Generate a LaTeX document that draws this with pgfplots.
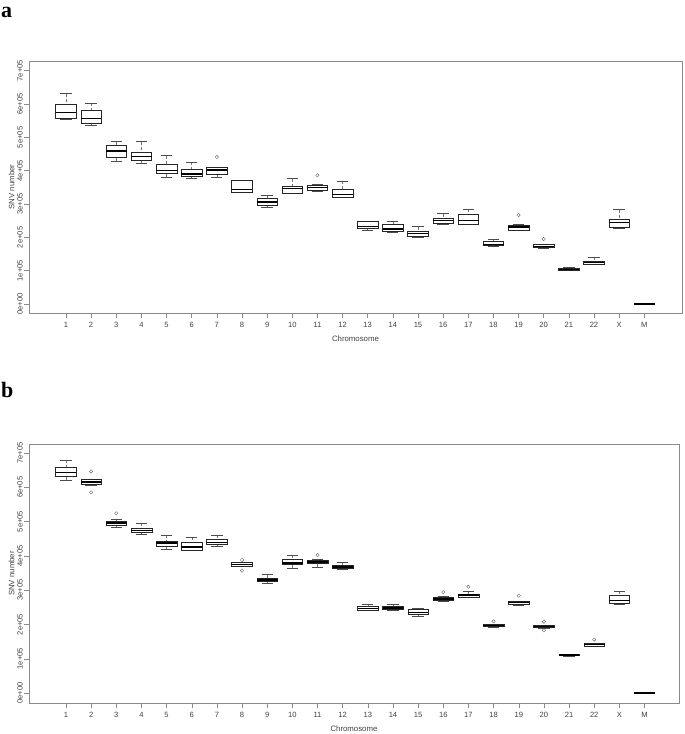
\documentclass[border=0pt]{standalone}
\usepackage{pgfplots}
\pgfplotsset{compat=1.18}
\usepgfplotslibrary{statistics}
\usepackage{fontspec}
\setmainfont{Liberation Sans}
\newfontfamily\serifb{Liberation Serif}

\definecolor{frm}{HTML}{8A8A8A}
\definecolor{lbl}{HTML}{404040}

% one R-style box: position, lower whisker, lower quartile, median, upper quartile, upper whisker, outliers
\newcommand{\bx}[7]{\addplot[black!85, line width=0.5pt, mark=o, mark size=1.7pt,
  mark options={solid, black!60, line width=0.4pt},
  boxplot prepared={draw position=#1, lower whisker=#2, lower quartile=#3,
    median=#4, upper quartile=#5, upper whisker=#6}] coordinates {#7};}

\pgfplotsset{
  snv/.style={
    scale only axis,
    axis line style={frm, line width=0.6pt},
    tick style={frm, line width=0.5pt},
    tick align=outside,
    major tick length=4.5pt,
    xtick pos=bottom, ytick pos=left,
    xtick={1,...,24},
    xticklabels={1,2,3,4,5,6,7,8,9,10,11,12,13,14,15,16,17,18,19,20,21,22,X,M},
    ytick={0,1,2,3,4,5,6,7},
    yticklabels={0e+00,1e+05,2e+05,3e+05,4e+05,5e+05,6e+05,7e+05},
    yticklabel style={rotate=90, anchor=south, inner sep=1.5pt},
    xticklabel style={inner sep=1.5pt, yshift=-3pt},
    ticklabel style={font=\fontsize{7.6}{8}\selectfont, text=lbl},
    label style={font=\fontsize{7.8}{9}\selectfont, text=lbl},
    xlabel={Chromosome},
    ylabel={SNV number},
    xlabel style={yshift=-3pt},
    ylabel style={yshift=-2pt},
    /pgf/number format/assume math mode=true,
    boxplot/draw direction=y,
    boxplot/box extend=0.82,
    boxplot/whisker extend=0.45,
    boxplot/every median/.style={line width=1.6pt, black},
    boxplot/every box/.style={fill=white},
    boxplot/draw/lower whisker/.code={
      \draw[densely dashed, black!55]
        (boxplot box cs:\pgfplotsboxplotvalue{lower whisker},0.5) --
        (boxplot box cs:\pgfplotsboxplotvalue{lower quartile},0.5);
      \draw[black!70]
        (boxplot whisker cs:\pgfplotsboxplotvalue{lower whisker},0) --
        (boxplot whisker cs:\pgfplotsboxplotvalue{lower whisker},1);
    },
    boxplot/draw/upper whisker/.code={
      \draw[densely dashed, black!55]
        (boxplot box cs:\pgfplotsboxplotvalue{upper whisker},0.5) --
        (boxplot box cs:\pgfplotsboxplotvalue{upper quartile},0.5);
      \draw[black!70]
        (boxplot whisker cs:\pgfplotsboxplotvalue{upper whisker},0) --
        (boxplot whisker cs:\pgfplotsboxplotvalue{upper whisker},1);
    },
  }
}

\begin{document}
\begin{tikzpicture}
\path[use as bounding box] (0pt,0pt) rectangle (685pt,-734pt);
\node[anchor=base west, inner sep=0pt, font=\serifb\bfseries\fontsize{22}{22}\selectfont] at (1pt,-17pt) {a};
\node[anchor=base west, inner sep=0pt, font=\serifb\bfseries\fontsize{22}{22}\selectfont] at (1pt,-397pt) {b};

\begin{axis}[snv, at={(29pt,-313pt)}, anchor=south west, width=653pt, height=252pt,
  xmin=-0.47, xmax=25.5, ymin=-0.27, ymax=7.29]
\bx{1}{5.55}{5.57}{5.75}{5.99}{6.31}{}
\bx{2}{5.35}{5.42}{5.57}{5.82}{6.03}{}
\bx{3}{4.29}{4.40}{4.59}{4.76}{4.87}{}
\bx{4}{4.23}{4.31}{4.43}{4.56}{4.87}{}
\bx{5}{3.81}{3.92}{4.01}{4.19}{4.45}{}
\bx{6}{3.76}{3.83}{3.90}{4.05}{4.26}{}
\bx{7}{3.79}{3.89}{4.02}{4.10}{4.11}{(0,4.41)}
\bx{8}{3.34}{3.35}{3.44}{3.71}{3.72}{}
\bx{9}{2.91}{2.96}{3.06}{3.18}{3.27}{}
\bx{10}{3.32}{3.33}{3.46}{3.54}{3.76}{}
\bx{11}{3.38}{3.42}{3.49}{3.57}{3.58}{(0,3.86)}
\bx{12}{3.19}{3.21}{3.29}{3.44}{3.68}{}
\bx{13}{2.21}{2.28}{2.32}{2.47}{2.48}{}
\bx{14}{2.16}{2.17}{2.25}{2.40}{2.48}{}
\bx{15}{2.01}{2.04}{2.12}{2.19}{2.32}{}
\bx{16}{2.40}{2.43}{2.51}{2.58}{2.71}{}
\bx{17}{2.38}{2.40}{2.50}{2.70}{2.84}{}
\bx{18}{1.74}{1.75}{1.79}{1.87}{1.94}{}
\bx{19}{2.20}{2.22}{2.31}{2.37}{2.38}{(0,2.67)}
\bx{20}{1.68}{1.69}{1.73}{1.79}{1.80}{(0,1.95)}
\bx{21}{1.00}{1.01}{1.04}{1.07}{1.11}{}
\bx{22}{1.18}{1.20}{1.25}{1.29}{1.40}{}
\bx{23}{2.27}{2.30}{2.45}{2.54}{2.83}{}
\bx{24}{0.00}{0.00}{0.00}{0.00}{0.00}{}
\end{axis}

\begin{axis}[snv, at={(29pt,-703pt)}, anchor=south west, width=650pt, height=259pt,
  xmin=-0.47, xmax=25.37, ymin=-0.29, ymax=7.26]
\bx{1}{6.21}{6.32}{6.43}{6.58}{6.79}{}
\bx{2}{6.07}{6.08}{6.16}{6.22}{6.23}{(0,6.46)(0,5.85)}
\bx{3}{4.84}{4.89}{4.95}{5.00}{5.08}{(0,5.24)}
\bx{4}{4.63}{4.69}{4.74}{4.81}{4.95}{}
\bx{5}{4.19}{4.29}{4.37}{4.43}{4.60}{}
\bx{6}{4.16}{4.17}{4.26}{4.39}{4.54}{}
\bx{7}{4.27}{4.34}{4.39}{4.47}{4.61}{}
\bx{8}{3.70}{3.71}{3.75}{3.80}{3.81}{(0,3.88)(0,3.57)}
\bx{9}{3.20}{3.26}{3.29}{3.34}{3.45}{}
\bx{10}{3.65}{3.75}{3.80}{3.90}{4.01}{}
\bx{11}{3.68}{3.77}{3.82}{3.87}{3.91}{(0,4.02)}
\bx{12}{3.61}{3.63}{3.68}{3.74}{3.81}{}
\bx{13}{2.41}{2.42}{2.47}{2.52}{2.59}{}
\bx{14}{2.42}{2.43}{2.48}{2.53}{2.60}{}
\bx{15}{2.24}{2.31}{2.35}{2.44}{2.47}{}
\bx{16}{2.67}{2.71}{2.75}{2.79}{2.83}{(0,2.94)}
\bx{17}{2.78}{2.80}{2.85}{2.89}{2.96}{(0,3.10)}
\bx{18}{1.93}{1.94}{1.97}{2.00}{2.01}{(0,2.09)}
\bx{19}{2.56}{2.58}{2.64}{2.68}{2.69}{(0,2.84)}
\bx{20}{1.89}{1.91}{1.94}{1.97}{1.99}{(0,2.08)(0,1.83)}
\bx{21}{1.08}{1.09}{1.11}{1.13}{1.14}{}
\bx{22}{1.36}{1.37}{1.41}{1.44}{1.45}{(0,1.56)}
\bx{23}{2.60}{2.62}{2.70}{2.84}{2.97}{}
\bx{24}{0.00}{0.00}{0.00}{0.00}{0.00}{}
\end{axis}
\end{tikzpicture}
\end{document}
